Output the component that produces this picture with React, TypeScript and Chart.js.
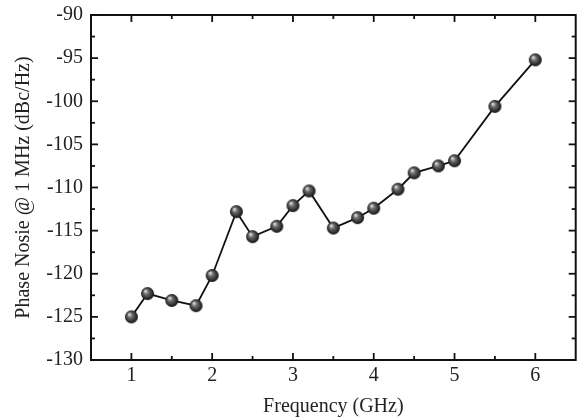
import React, { useEffect, useRef } from "react";
import { Chart, registerables } from "chart.js";

Chart.register(...registerables);

const frequencies = [1, 1.2, 1.5, 1.8, 2, 2.3, 2.5, 2.8, 3, 3.2, 3.5, 3.8, 4, 4.3, 4.5, 4.8, 5, 5.5, 6];
const phaseNoise = [-125, -122.3, -123.1, -123.7, -120.2, -112.8, -115.7, -114.5, -112.1, -110.4, -114.7, -113.5, -112.4, -110.2, -108.3, -107.5, -106.9, -100.6, -95.2];
const xTicks = [1, 2, 3, 4, 5, 6];
const xMinorTicks = [1.5, 2.5, 3.5, 4.5, 5.5];
const yTicks = [-130, -125, -120, -115, -110, -105, -100, -95, -90];
const yMinorTicks = [-127.5, -122.5, -117.5, -112.5, -107.5, -102.5, -97.5, -92.5];

function makeSphere(r: number): HTMLCanvasElement {
  const c = document.createElement("canvas");
  const s = Math.ceil(r * 2 + 2);
  c.width = s;
  c.height = s;
  const ctx = c.getContext("2d")!;
  const cx = s / 2;
  const g = ctx.createRadialGradient(cx - r * 0.35, cx - r * 0.4, 0.5, cx, cx, r);
  g.addColorStop(0, "#dcdcdc");
  g.addColorStop(0.35, "#6a6a6a");
  g.addColorStop(1, "#111111");
  ctx.fillStyle = g;
  ctx.beginPath();
  ctx.arc(cx, cx, r, 0, Math.PI * 2);
  ctx.fill();
  return c;
}

const frameTicks = {
  id: "frameTicks",
  afterDraw(chart: any) {
    const { ctx, chartArea: a, scales } = chart;
    const xs = scales.x;
    const ys = scales.y;
    ctx.save();
    ctx.strokeStyle = "#111";
    ctx.lineWidth = 2;
    ctx.strokeRect(a.left, a.top, a.right - a.left, a.bottom - a.top);
    ctx.lineWidth = 1.8;
    const tick = (x1: number, y1: number, x2: number, y2: number) => {
      ctx.beginPath();
      ctx.moveTo(x1, y1);
      ctx.lineTo(x2, y2);
      ctx.stroke();
    };
    xTicks.forEach((v) => {
      const p = xs.getPixelForValue(v);
      tick(p, a.bottom, p, a.bottom - 7);
      tick(p, a.top, p, a.top + 7);
    });
    xMinorTicks.forEach((v) => {
      const p = xs.getPixelForValue(v);
      tick(p, a.bottom, p, a.bottom - 4);
      tick(p, a.top, p, a.top + 4);
    });
    yTicks.forEach((v) => {
      const p = ys.getPixelForValue(v);
      tick(a.left, p, a.left + 7, p);
      tick(a.right, p, a.right - 7, p);
    });
    yMinorTicks.forEach((v) => {
      const p = ys.getPixelForValue(v);
      tick(a.left, p, a.left + 4, p);
      tick(a.right, p, a.right - 4, p);
    });
    ctx.restore();
  },
};

export default function App() {
  const ref = useRef<HTMLCanvasElement>(null);
  useEffect(() => {
    document.body.style.margin = "0";
    const sphere = makeSphere(6.5);
    const font = "'Liberation Serif', 'Times New Roman', serif";
    const chart = new Chart(ref.current!, {
      type: "line",
      data: {
        datasets: [
          {
            data: frequencies.map((f, i) => ({ x: f, y: phaseNoise[i] })),
            borderColor: "#111",
            borderWidth: 1.8,
            pointStyle: sphere as any,
            pointRadius: 6.5,
            fill: false,
            tension: 0,
          },
        ],
      },
      plugins: [frameTicks],
      options: {
        animation: false,
        responsive: false,
        layout: { padding: { top: 15, right: 4, left: 0, bottom: 0 } },
        plugins: { legend: { display: false }, tooltip: { enabled: false } },
        scales: {
          x: {
            type: "linear",
            min: 0.5,
            max: 6.5,
            afterBuildTicks: (s: any) => {
              s.ticks = xTicks.map((v) => ({ value: v }));
            },
            afterFit: (s: any) => {
              s.height = 59;
              s.paddingLeft = 0;
              s.paddingRight = 0;
            },
            grid: { display: false, drawTicks: false },
            border: { display: false },
            ticks: { color: "#222", font: { family: font, size: 20 }, padding: 4 },
            title: {
              display: true,
              text: "Frequency (GHz)",
              color: "#222",
              font: { family: font, size: 20 },
              padding: { top: 3, bottom: 0 },
            },
          },
          y: {
            type: "linear",
            min: -130,
            max: -90,
            afterBuildTicks: (s: any) => {
              s.ticks = yTicks.map((v) => ({ value: v }));
            },
            afterFit: (s: any) => {
              s.width = 91;
              s.paddingTop = 0;
              s.paddingBottom = 0;
            },
            grid: { display: false, drawTicks: false },
            border: { display: false },
            ticks: { color: "#222", font: { family: font, size: 20 }, padding: 8 },
            title: {
              display: true,
              text: "Phase Nosie @ 1 MHz (dBc/Hz)",
              color: "#222",
              font: { family: font, size: 20 },
              padding: { top: 12, bottom: 0 },
            },
          },
        },
      },
    });
    return () => chart.destroy();
  }, []);
  return <canvas ref={ref} width={584} height={419} style={{ display: "block" }} />;
}
